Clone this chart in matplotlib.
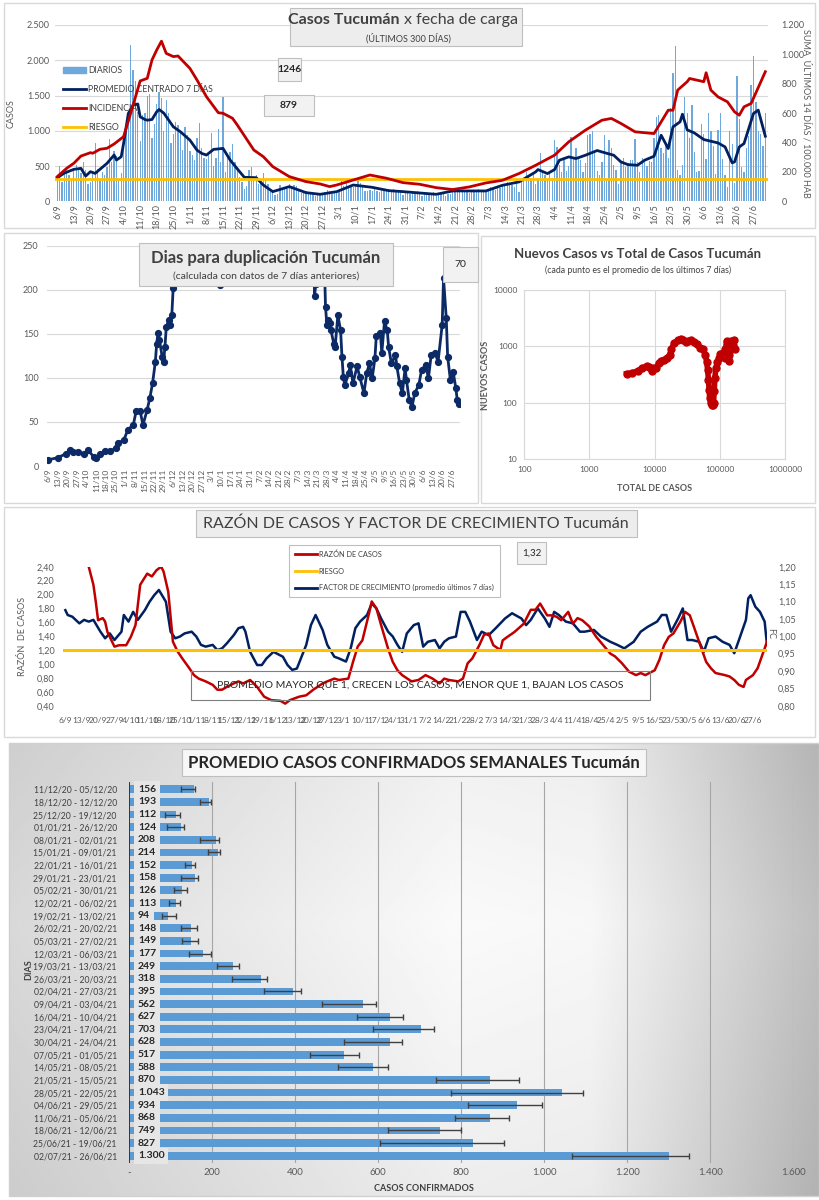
import numpy as np
import pandas as pd
import matplotlib
matplotlib.use('Agg')
import matplotlib.pyplot as plt
from matplotlib.patches import Rectangle, Patch
from matplotlib.lines import Line2D

plt.rcParams['font.family'] = ['Lato', 'DejaVu Sans']

W, H = 820, 1200

### 1. Datos

# casos diarios desde 6/9/2020 (300 dias)
diarios = [
    330, 500, 280, 420, 470, 380,
    300, 460, 520, 470, 400, 560, 440,
    250, 280, 400, 820, 460, 300, 420,
    380, 480, 880, 560, 720, 640, 300,
    400, 830, 1000, 1120, 2210, 1860, 1700,
    1260, 860, 1230, 1250, 1500, 1520, 900,
    1100, 1380, 1550, 1470, 1000, 1440, 1250,
    820, 960, 1120, 1080, 1000, 730, 1050,
    940, 720, 650, 580, 900, 1110, 750,
    620, 600, 660, 970, 500, 620, 1020,
    560, 1480, 420, 680, 700, 810, 560,
    480, 350, 270, 170, 220, 450, 480,
    310, 370, 240, 280, 400, 300, 240,
    130, 160, 90, 100, 230, 190, 190,
    180, 240, 220, 230, 210, 150, 121,
    120, 150, 100, 130, 110, 80, 94,
    90, 120, 130, 160, 140, 100, 128,
    130, 150, 290, 220, 260, 200, 206,
    200, 240, 290, 260, 210, 150, 148,
    160, 140, 180, 150, 130, 160, 144,
    150, 170, 130, 180, 160, 150, 166,
    90, 130, 150, 110, 140, 120, 142,
    100, 80, 130, 120, 110, 120, 131,
    70, 90, 110, 100, 80, 100, 108,
    140, 160, 130, 150, 170, 130, 156,
    120, 150, 160, 140, 180, 130, 163,
    150, 170, 200, 180, 160, 190, 189,
    220, 250, 270, 260, 230, 200, 313,
    130, 270, 310, 420, 380, 330, 386,
    240, 330, 680, 420, 370, 300, 425,
    330, 870, 770, 520, 410, 610, 424,
    500, 910, 600, 760, 620, 580, 419,
    550, 940, 960, 990, 680, 430, 371,
    560, 940, 300, 870, 760, 520, 446,
    250, 560, 610, 480, 540, 590, 589,
    890, 560, 420, 610, 560, 500, 576,
    560, 900, 1200, 1220, 750, 680, 780,
    620, 1320, 1820, 2200, 450, 380, 511,
    1480, 1250, 900, 1360, 700, 420, 428,
    1100, 960, 600, 1250, 1000, 780, 386,
    1010, 1250, 600, 370, 200, 1000, 813,
    260, 1770, 1170, 490, 420, 760, 919,
    1650, 2060, 1410, 1000, 950, 784, 1246,
]

prom_dias = [0, 3, 7, 10, 12, 14, 16, 21, 24, 25, 27, 28, 30, 32, 34, 35, 37, 38, 40, 42,
             43, 45, 49, 52, 56, 59, 61, 63, 66, 70, 73, 77, 79, 84, 87, 91, 98, 105, 111,
             118, 125, 133, 140, 146, 153, 160, 167, 174, 181, 188, 195, 202, 203, 207,
             210, 212, 216, 219, 223, 228, 230, 235, 238, 241, 245, 248, 252, 255, 258,
             260, 263, 264, 266, 269, 273, 279, 282, 285, 286, 288, 290, 294, 296, 299]
prom_vals = [335, 400, 453, 467, 358, 420, 396, 538, 656, 585, 632, 820, 1245, 1363, 1380,
             1198, 1160, 1150, 1160, 1270, 1302, 1250, 1057, 986, 868, 726, 679, 656, 736,
             750, 585, 420, 340, 335, 231, 137, 208, 123, 99, 137, 231, 198, 151, 137, 118,
             99, 147, 147, 147, 227, 275, 417, 450, 393, 450, 582, 630, 606, 653, 720, 700,
             653, 559, 520, 511, 582, 639, 937, 748, 1055, 1127, 1235, 1013, 970, 876, 828,
             771, 545, 559, 771, 819, 1245, 1293, 923]

inc_dias = [0, 4, 7, 10, 14, 15, 18, 21, 24, 28, 31, 35, 38, 40, 42, 44, 46, 49, 51, 56,
            59, 63, 68, 70, 74, 76, 83, 87, 91, 98, 105, 111, 115, 118, 125, 132, 139, 146,
            153, 160, 167, 174, 181, 188, 195, 202, 210, 216, 223, 230, 234, 238, 244, 252,
            258, 260, 262, 266, 267, 270, 273, 274, 276, 279, 283, 286, 288, 290, 293, 299]
inc_vals = [168, 225, 259, 308, 331, 327, 354, 361, 390, 440, 599, 819, 837, 962, 1030,
            1090, 1007, 985, 989, 905, 826, 712, 603, 599, 565, 520, 349, 304, 236, 168, 134,
            118, 100, 111, 145, 179, 157, 127, 116, 93, 80, 98, 125, 143, 189, 245, 314, 405,
            484, 552, 564, 530, 473, 461, 620, 620, 757, 814, 836, 825, 814, 875, 757, 711,
            677, 609, 586, 643, 666, 882]
riesgo_inc = 150

# dias para duplicacion (valores > 250 quedan fuera del grafico)
dup_dias = [0, 7, 13, 16, 18, 22, 26, 29, 33, 35, 38, 41, 45, 49, 51, 55, 58, 62, 64, 67,
            69, 72, 74, 76, 78, 79, 80, 81, 83, 84, 85, 86, 88, 89, 90, 91, 96, 122, 125,
            128, 191, 194, 195, 198, 202, 203, 204, 205, 206, 208, 209, 211, 213, 214, 215,
            216, 219, 220, 222, 225, 227, 230, 232, 234, 236, 238, 239, 242, 243, 245, 247,
            248, 250, 253, 254, 256, 258, 260, 261, 263, 265, 267, 270, 272, 275, 277, 279,
            282, 284, 287, 288, 290, 291, 293, 295, 297, 298, 299]
dup_vals = [7, 9.5, 14, 18, 16, 16, 14, 18, 10.6, 8.7, 14, 17, 17, 20, 26, 29.5, 41, 47, 62,
            62, 46.5, 63.5, 77, 94, 118, 139, 151, 143, 124, 118, 135, 158, 166, 160, 171,
            201.6, 420, 420, 205, 420, 420, 193, 207, 420, 181, 160, 166, 162, 154, 139, 135,
            171, 154, 124, 101, 92, 105, 115, 94, 113, 101, 82.5, 105, 116.5, 99.5, 122, 147,
            150.5, 128, 164, 154, 135, 116.5, 126, 113, 94, 82.5, 111, 97.6, 75, 67, 82.5, 92,
            109, 115, 99.5, 126, 128, 118, 160, 213, 167.5, 124, 97.6, 107, 88, 75, 70]

# nuevos casos (prom. 7 dias) vs total de casos
total_casos = [3700, 4500, 5500, 6500, 7500, 8200, 9000, 9500, 10500, 11500, 12500, 14000,
               15500, 17000, 18000, 20000, 23000, 25000, 27000, 30000, 33000, 36000, 40000,
               45000, 50000, 55000, 60000, 63000, 65000, 67000, 68500, 70000, 72000, 75000,
               78000, 80000, 82000, 84000, 87000, 92000, 97000, 102000, 108000, 113000,
               118000, 122000, 127000, 132000, 137000, 140000, 145000, 150000, 157000,
               163000, 168000]
nuevos_casos = [330, 340, 370, 420, 450, 440, 360, 410, 420, 500, 560, 580, 620, 700, 900,
                1150, 1300, 1380, 1300, 1180, 1250, 1300, 1200, 1100, 950, 900, 700, 520, 380,
                250, 170, 120, 100, 92, 90, 100, 160, 280, 420, 520, 620, 720, 680, 750, 620,
                900, 1250, 1050, 700, 560, 850, 1250, 1050, 1300, 900]

# razon de casos y factor de crecimiento
razon_dias = [10, 12, 13, 14, 16, 17, 18, 20, 21, 23, 26, 28, 30, 31, 32, 35, 37, 39, 41, 42,
              44, 46, 48, 50, 53, 55, 57, 60, 63, 65, 67, 69, 72, 74, 76, 79, 82, 85, 88, 92,
              94, 96, 100, 103, 106, 110, 112, 115, 117, 121, 123, 125, 127, 130, 131, 133,
              135, 138, 140, 142, 144, 148, 151, 154, 157, 160, 162, 164, 168, 170, 172, 174,
              177, 179, 181, 183, 186, 187, 189, 192, 196, 199, 201, 203, 206, 208, 210, 212,
              215, 217, 219, 221, 224, 227, 230, 233, 235, 238, 241, 244, 246, 248, 252, 254,
              256, 258, 260, 263, 265, 267, 269, 272, 274, 276, 278, 282, 284, 286, 288, 290,
              291, 294, 296, 298, 300]
razon_vals = [2.40, 2.14, 1.90, 1.63, 1.66, 1.61, 1.46, 1.32, 1.25, 1.27, 1.27, 1.39, 1.56,
              1.85, 2.14, 2.30, 2.26, 2.35, 2.40, 2.33, 2.04, 1.32, 1.18, 1.08, 0.94, 0.84,
              0.79, 0.75, 0.70, 0.63, 0.63, 0.67, 0.72, 0.75, 0.72, 0.77, 0.67, 0.53, 0.48,
              0.47, 0.43, 0.48, 0.53, 0.55, 0.63, 0.72, 0.75, 0.79, 0.77, 0.79, 1.03, 1.25,
              1.34, 1.75, 1.90, 1.80, 1.56, 1.22, 1.03, 0.91, 0.84, 0.75, 0.77, 0.84, 0.79,
              0.72, 0.79, 0.77, 0.75, 0.79, 1.01, 1.08, 1.27, 1.42, 1.44, 1.27, 1.20, 1.34,
              1.39, 1.46, 1.58, 1.78, 1.78, 1.87, 1.70, 1.70, 1.68, 1.63, 1.75, 1.58, 1.66,
              1.63, 1.54, 1.39, 1.27, 1.15, 1.11, 1.01, 0.89, 0.84, 0.87, 0.84, 0.91, 1.06,
              1.27, 1.39, 1.44, 1.61, 1.75, 1.70, 1.51, 1.22, 1.03, 0.94, 0.87, 0.84, 0.82,
              0.77, 0.70, 0.67, 0.77, 0.84, 0.94, 1.13, 1.32]
riesgo_razon = 1.2

fc_dias = [0, 1, 3, 6, 8, 10, 12, 15, 17, 19, 21, 24, 25, 27, 29, 31, 34, 36, 38, 40, 43, 45,
           47, 49, 51, 54, 56, 58, 60, 63, 65, 67, 69, 72, 74, 76, 77, 79, 82, 84, 86, 89, 93,
           95, 97, 99, 101, 103, 105, 107, 110, 112, 115, 117, 120, 122, 124, 126, 129, 131,
           133, 135, 138, 140, 142, 144, 146, 149, 151, 153, 155, 158, 160, 162, 164, 167,
           169, 171, 173, 176, 178, 181, 184, 188, 191, 195, 197, 199, 202, 205, 207, 209,
           211, 214, 217, 220, 222, 226, 229, 233, 236, 239, 243, 246, 249, 253, 255, 257,
           259, 262, 264, 266, 268, 271, 273, 275, 278, 281, 284, 286, 288, 291, 292, 293,
           295, 297, 299, 300]
fc_vals = [1.075, 1.061, 1.056, 1.037, 1.047, 1.042, 1.047, 1.013, 0.994, 1.008, 0.989,
           1.013, 1.061, 1.042, 1.070, 1.047, 1.075, 1.099, 1.118, 1.133, 1.099, 1.013, 0.994,
           0.999, 1.008, 1.013, 0.999, 0.975, 0.970, 0.975, 0.960, 0.965, 0.979, 1.003, 1.023,
           1.027, 1.013, 0.955, 0.917, 0.917, 0.936, 0.955, 0.941, 0.917, 0.903, 0.907,
           0.941, 0.975, 1.032, 1.061, 1.018, 0.975, 0.941, 0.936, 0.927, 0.965, 1.023,
           1.042, 1.061, 1.094, 1.080, 1.051, 1.013, 0.999, 0.975, 0.955, 1.008, 1.032,
           1.037, 0.970, 0.984, 0.989, 0.965, 0.984, 0.994, 0.999, 1.070, 1.070, 1.042,
           0.989, 1.013, 1.003, 1.023, 1.051, 1.066, 1.051, 1.032, 1.047, 1.080, 1.051,
           1.027, 1.070, 1.061, 1.042, 1.037, 1.013, 1.013, 1.018, 0.999, 0.984, 0.975,
           0.965, 0.984, 1.013, 1.027, 1.042, 1.061, 1.061, 1.013, 1.051, 1.080, 0.989,
           0.989, 0.984, 0.955, 0.994, 0.999, 0.984, 0.975, 0.951, 0.989, 1.047, 1.109,
           1.118, 1.085, 1.070, 1.042, 0.975]

# promedio semanal de casos confirmados
semanas = ['11/12/20 - 05/12/20', '18/12/20 - 12/12/20', '25/12/20 - 19/12/20',
           '01/01/21 - 26/12/20', '08/01/21 - 02/01/21', '15/01/21 - 09/01/21',
           '22/01/21 - 16/01/21', '29/01/21 - 23/01/21', '05/02/21 - 30/01/21',
           '12/02/21 - 06/02/21', '19/02/21 - 13/02/21', '26/02/21 - 20/02/21',
           '05/03/21 - 27/02/21', '12/03/21 - 06/03/21', '19/03/21 - 13/03/21',
           '26/03/21 - 20/03/21', '02/04/21 - 27/03/21', '09/04/21 - 03/04/21',
           '16/04/21 - 10/04/21', '23/04/21 - 17/04/21', '30/04/21 - 24/04/21',
           '07/05/21 - 01/05/21', '14/05/21 - 08/05/21', '21/05/21 - 15/05/21',
           '28/05/21 - 22/05/21', '04/06/21 - 29/05/21', '11/06/21 - 05/06/21',
           '18/06/21 - 12/06/21', '25/06/21 - 19/06/21', '02/07/21 - 26/06/21']
promedios = [156, 193, 112, 124, 208, 214, 152, 158, 126, 113, 94, 148, 149, 177, 249, 318,
             395, 562, 627, 703, 628, 517, 588, 870, 1043, 934, 868, 749, 827, 1300]
err_bajo = [125, 171, 87, 92, 171, 190, 135, 125, 107, 96, 78, 125, 127, 143, 212, 248, 325,
            465, 549, 588, 517, 435, 503, 739, 775, 817, 785, 624, 604, 1067]
err_alto = [159, 198, 121, 131, 215, 219, 159, 165, 139, 123, 113, 162, 165, 198, 264, 332,
            413, 594, 659, 735, 656, 553, 623, 940, 1094, 994, 914, 799, 902, 1348]

fechas = pd.date_range('2020-09-06', periods=300, freq='D')
tick_dias = list(range(0, 300, 7))
tick_fechas = [f"{d.day}/{d.month}" for d in fechas[::7]]


### 2. Helpers
def miles(v, pos=None):
    return f"{v:,.0f}".replace(',', '.')

def coma(v, pos=None):
    return f"{v:.2f}".replace('.', ',')

def rect(x0, y0, x1, y1):
    return [x0 / W, 1 - y1 / H, (x1 - x0) / W, (y1 - y0) / H]

def caja(x0, y0, x1, y1, fc='#ededed', ec='#bfbfbf', lw=0.8, z=5):
    fig.add_artist(Rectangle((x0 / W, 1 - y1 / H), (x1 - x0) / W, (y1 - y0) / H,
                             transform=fig.transFigure, fc=fc, ec=ec, lw=lw, zorder=z))

def texto(x, y, s, **kw):
    kw.setdefault('ha', 'center')
    kw.setdefault('va', 'center')
    kw.setdefault('zorder', 6)
    fig.text(x / W, 1 - y / H, s, **kw)

GRIS = '#595959'
AZUL = '#002060'
ROJO = '#c00000'
AMARILLO = '#ffc000'

fig = plt.figure(figsize=(8.2, 12), dpi=100)
fig.patch.set_facecolor('white')

# marcos de los paneles
for x0, y0, x1, y1 in [(4, 3, 815, 228), (4, 233, 478, 503), (481, 236, 815, 503),
                       (4, 507, 815, 737)]:
    caja(x0, y0, x1, y1, fc='none', ec='#d9d9d9', lw=1, z=0)


### 3. Casos diarios
ax1 = fig.add_axes(rect(54.9, 25, 767.7, 201.3))
ax1.bar(range(len(diarios)), diarios, width=0.55, color='#6fa8dc', zorder=2)
ax1.plot(prom_dias, prom_vals, color=AZUL, lw=2, zorder=4)
ax1.set_xlim(-1, 300)
ax1.set_ylim(0, 2500)
ax1.set_yticks(range(0, 2501, 500))
ax1.yaxis.set_major_formatter(miles)
ax1.set_xticks(tick_dias)
ax1.set_xticklabels(tick_fechas, rotation=90, fontsize=6.5, color=GRIS)
ax1.tick_params(axis='y', labelsize=6.5, labelcolor=GRIS, length=0)
ax1.tick_params(axis='x', length=0, pad=2)
ax1.grid(axis='y', color='#d9d9d9', lw=0.8, zorder=0)
ax1.set_axisbelow(True)
for s in ax1.spines.values():
    s.set_visible(False)
ax1.set_ylabel('CASOS', fontsize=6.5, color=GRIS, labelpad=8)

ax1b = ax1.twinx()
ax1b.plot(inc_dias, inc_vals, color=ROJO, lw=2, zorder=4)
ax1b.axhline(riesgo_inc, color=AMARILLO, lw=2, zorder=3)
ax1b.set_ylim(0, 1200)
ax1b.set_yticks(range(0, 1201, 200))
ax1b.yaxis.set_major_formatter(miles)
ax1b.tick_params(axis='y', labelsize=6.5, labelcolor=GRIS, length=0, pad=10)
for s in ax1b.spines.values():
    s.set_visible(False)
texto(806, 113, 'SUMA  ÚLTIMOS 14 DÍAS / 100.000 HAB', rotation=270, fontsize=6.5, color=GRIS)

hand = [Patch(color='#6fa8dc'), Line2D([], [], color=AZUL, lw=2),
        Line2D([], [], color=ROJO, lw=2), Line2D([], [], color=AMARILLO, lw=2)]
ax1.legend(hand, ['DIARIOS', 'PROMEDIO CENTRADO 7 DÍAS', 'INCIDENCIA', 'RIESGO'],
           loc='upper left', bbox_to_anchor=(63 / W, 1 - 66 / H), bbox_transform=fig.transFigure,
           frameon=False, fontsize=6.3, handlelength=2.6, handletextpad=0.3, labelspacing=1.15,
           borderpad=0, borderaxespad=0, labelcolor='#404040')

caja(290, 8, 522, 46)
texto(400, 20, 'Casos Tucumán', ha='right', fontsize=11.5, fontweight='bold', color='#404040')
texto(404, 20, 'x fecha de carga', ha='left', fontsize=11.5, color='#404040')
texto(408, 38, '(ÚLTIMOS 300 DÍAS)', fontsize=6.5, color='#404040')
caja(278, 58, 301, 81, fc='#f2f2f2')
texto(289.5, 70, '1246', fontsize=7.5, fontweight='bold', color='#262626')
caja(264, 95, 314, 116, fc='#f2f2f2')
texto(289, 105.5, '879', fontsize=7.5, fontweight='bold', color='#262626')


### 4. Dias para duplicacion
ax2 = fig.add_axes(rect(46.9, 245.7, 460.0, 466))
ax2.plot(dup_dias, dup_vals, color='#0b2a66', lw=2, marker='o', ms=4.2, zorder=3)
ax2.set_xlim(-1, 300)
ax2.set_ylim(0, 250)
ax2.set_yticks(range(0, 251, 50))
ax2.set_xticks(tick_dias)
ax2.set_xticklabels(tick_fechas, rotation=90, fontsize=6, color=GRIS)
ax2.tick_params(axis='y', labelsize=6.5, labelcolor=GRIS, length=0, pad=6)
ax2.tick_params(axis='x', length=0, pad=2)
ax2.grid(axis='y', color='#d9d9d9', lw=0.8)
ax2.set_axisbelow(True)
for s in ax2.spines.values():
    s.set_visible(False)

caja(139, 243, 393, 286)
texto(266, 258, 'Dias para duplicación Tucumán', fontsize=12, fontweight='bold', color='#404040')
texto(266, 276.5, '(calculada con datos de 7 días anteriores)', fontsize=7.5, color='#404040')
caja(443, 247, 478, 282, fc='#f2f2f2')
texto(460.5, 264.5, '70', fontsize=7.5, color='#262626')


### 5. Nuevos casos vs total
ax3 = fig.add_axes(rect(524.3, 290, 785, 459.3))
ax3.plot(total_casos, nuevos_casos, color=ROJO, lw=4, marker='o', ms=5, zorder=3)
ax3.set_xscale('log')
ax3.set_yscale('log')
ax3.set_xlim(100, 1e6)
ax3.set_ylim(10, 1e4)
ax3.set_xticks([100, 1000, 10000, 100000, 1000000])
ax3.set_xticklabels(['100', '1000', '10000', '100000', '1000000'])
ax3.set_yticks([10, 100, 1000, 10000])
ax3.set_yticklabels(['10', '100', '1000', '10000'])
ax3.minorticks_off()
ax3.tick_params(labelsize=6, labelcolor=GRIS, length=0, pad=5)
ax3.grid(color='#d9d9d9', lw=0.8)
ax3.set_axisbelow(True)
for s in ax3.spines.values():
    s.set_color('#d9d9d9')
texto(638, 254, 'Nuevos Casos vs Total de Casos Tucumán', fontsize=9.5, fontweight='bold',
      color='#404040')
texto(638, 270, '(cada punto es el promedio de los últimos 7 días)', fontsize=6.3, color='#404040')
texto(655, 488, 'TOTAL DE CASOS', fontsize=6.5, fontweight='bold', color=GRIS)
texto(486, 375, 'NUEVOS CASOS', rotation=90, fontsize=6.5, fontweight='bold', color=GRIS)


### 6. Razon de casos y factor de crecimiento
ax4 = fig.add_axes(rect(63, 566.7, 767, 705.7))
ax4b = ax4.twinx()
ax4b.plot(fc_dias, fc_vals, color=AZUL, lw=1.8, zorder=3)
ax4.plot(razon_dias, razon_vals, color=ROJO, lw=1.8, zorder=3)
ax4.axhline(riesgo_razon, color=AMARILLO, lw=2.2, zorder=4)
ax4.set_zorder(ax4b.get_zorder() + 1)
ax4.patch.set_visible(False)
ax4.set_xlim(-1, 300)
ax4.set_ylim(0.4, 2.4)
ax4b.set_ylim(0.8, 1.2)
ax4.set_yticks(np.arange(0.4, 2.41, 0.2))
ax4.yaxis.set_major_formatter(coma)
ax4b.set_yticks(np.arange(0.8, 1.201, 0.05))
ax4b.yaxis.set_major_formatter(coma)
ax4.set_xticks(tick_dias)
ax4.set_xticklabels(tick_fechas, fontsize=6, color=GRIS)
ax4.tick_params(axis='x', length=0, pad=8)
ax4.tick_params(axis='y', labelsize=6.5, labelcolor=GRIS, length=0, pad=6)
ax4b.tick_params(axis='y', labelsize=6.5, labelcolor=GRIS, length=0, pad=8)
for a in (ax4, ax4b):
    for s in a.spines.values():
        s.set_visible(False)
texto(23, 636, 'RAZÓN  DE CASOS', rotation=90, fontsize=6.5, color=GRIS)
texto(771, 633, 'FC', rotation=270, fontsize=6.5, color=GRIS)

hand4 = [Line2D([], [], color=ROJO, lw=2), Line2D([], [], color=AMARILLO, lw=2),
         Line2D([], [], color=AZUL, lw=2)]
leg4 = ax4.legend(hand4, ['RAZÓN DE CASOS', 'RIESGO',
                          'FACTOR DE CRECIMIENTO (promedio últimos 7 días)'],
                  loc='upper left', bbox_to_anchor=(285 / W, 1 - 541 / H),
                  bbox_transform=fig.transFigure, fontsize=5.3, handlelength=3,
                  handletextpad=0.3, labelspacing=1.3, borderpad=0.8, fancybox=False,
                  framealpha=1, edgecolor='#bfbfbf', labelcolor='#404040')
leg4.get_frame().set_linewidth(0.8)

caja(196, 510, 637, 537)
texto(416, 523.5, 'RAZÓN DE CASOS Y FACTOR DE CRECIMIENTO Tucumán', fontsize=11.5, color='#404040')
caja(517, 542, 546, 564, fc='#f2f2f2')
texto(531.5, 553, '1,32', fontsize=7, color='#262626')
caja(191, 671, 650, 700, fc='none', ec='#7f7f7f', lw=0.8, z=6)
texto(420, 686, 'PROMEDIO MAYOR QUE 1, CRECEN LOS CASOS, MENOR QUE 1, BAJAN LOS CASOS',
      fontsize=7.5, color='#262626')


### 7. Promedio semanal
axbg = fig.add_axes(rect(9, 743, 819, 1196))
yy, xx = np.mgrid[0:1:200j, 0:1:300j]
fondo = np.interp(xx, [0, 0.55, 0.72, 1], [0.85, 0.98, 0.97, 0.75]) + \
    np.interp(yy, [0, 0.4, 1], [-0.04, 0, -0.05])
axbg.imshow(fondo, cmap='gray', vmin=0, vmax=1, aspect='auto', extent=(0, 1, 0, 1))
axbg.set_axis_off()
caja(9, 743, 819, 1196, fc='none', ec='#d0d0d0', lw=1, z=1)

ax5 = fig.add_axes(rect(129.3, 781.7, 793.3, 1163.3))
ax5.patch.set_visible(False)
ypos = np.arange(len(semanas))
prom = np.array(promedios)
xerr = [prom - np.array(err_bajo), np.array(err_alto) - prom]
ax5.barh(ypos, prom, height=0.62, color='#5b9bd5', zorder=2)
ax5.errorbar(prom, ypos, xerr=xerr, fmt='none', ecolor='#404040', elinewidth=1, capsize=2.5,
             capthick=1, zorder=3)
for y, v in zip(ypos, promedios):
    ax5.text(21, y, miles(v), ha='left', va='center', fontsize=7.5, fontweight='bold',
             color='#262626', zorder=4,
             bbox=dict(fc='#e6e6e6', ec='none', boxstyle='square,pad=0.35'))
ax5.set_xlim(0, 1600)
ax5.set_ylim(len(semanas) - 0.4, -0.6)
ax5.set_yticks(ypos)
ax5.set_yticklabels(semanas, fontsize=6.2, color='#404040')
ax5.set_xticks(range(0, 1601, 200))
ax5.set_xticklabels(['-'] + [miles(v) for v in range(200, 1601, 200)], fontsize=7, color=GRIS)
ax5.tick_params(length=0)
ax5.tick_params(axis='y', pad=9)
ax5.grid(axis='x', color='#a6a6a6', lw=0.8, zorder=0)
for s in ax5.spines.values():
    s.set_visible(False)
ax5.axvline(0, color='#262626', lw=1.2, zorder=5)
ax5.set_xlabel('CASOS CONFIRMADOS', fontsize=6.5, fontweight='bold', color='#404040')
ax5.xaxis.set_label_coords(0.444, -0.055)
texto(29, 970, 'DIAS', rotation=90, fontsize=6.5, fontweight='bold', color='#404040')

caja(182, 749, 646, 776, fc='#f7f7f7')
texto(414, 762.5, 'PROMEDIO CASOS CONFIRMADOS SEMANALES Tucumán', fontsize=12, fontweight='bold',
      color='#262626')

plt.savefig('out.png', dpi=100)
plt.close()
